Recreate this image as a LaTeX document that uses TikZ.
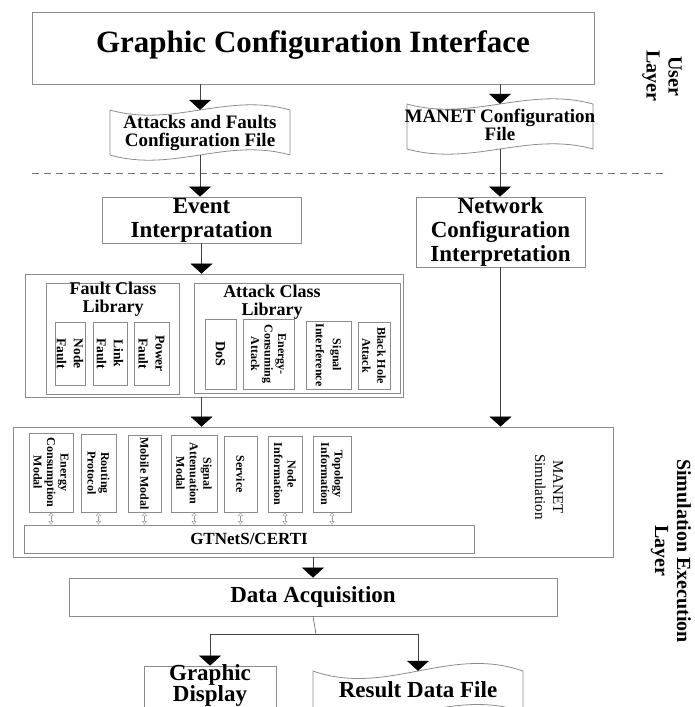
\documentclass[tikz,border=0pt]{standalone}
\usepackage{fontspec}
\setmainfont{Liberation Serif}
\usetikzlibrary{arrows.meta,fit}

% font size helper: size and leading in pt
\newcommand\sz[2]{\fontsize{#1pt}{#2pt}\selectfont}

\tikzset{
  frame/.style={draw=black!45, line width=0.8pt, inner sep=0pt},
  txt/.style={font=\bfseries, align=center, inner sep=0pt},
  vert/.style={txt, rotate=-90},
  flow/.style={draw=black!75, line width=0.5pt, -{Triangle[width=22pt,length=10pt,color=black]}},
  wire/.style={draw=black!75, line width=0.5pt},
  duplex/.style={draw=black!40, line width=0.4pt,
    {Triangle[open,width=5pt,length=3.5pt]}-{Triangle[open,width=5pt,length=3.5pt]}},
}

% rectangle node from its two corners: name, x1, y1, x2, y2
\newcommand\rbox[5]{\node[frame, fit={(#2,#3)(#4,#5)}] (#1) {};}
% punched-tape file shape: name, x1, x2, top y, bottom y, wave amplitude
\newcommand\tape[6]{%
  \node[inner sep=0pt, fit={(#2,#4)(#3,#5)}] (#1) {};
  \draw[frame] (#2,#4)
    .. controls ({#2+0.35*(#3-#2)},{#4+#6}) and ({#2+0.65*(#3-#2)},{#4-#6}) .. (#3,#4)
    -- (#3,#5)
    .. controls ({#2+0.65*(#3-#2)},{#5-#6}) and ({#2+0.35*(#3-#2)},{#5+#6}) .. (#2,#5)
    -- cycle;}

\begin{document}
\begin{tikzpicture}[x=1pt,y=-1pt]
\path[use as bounding box] (0,0) rectangle (694,707);
\clip (0,0) rectangle (694,707);

% ---------------- user layer ----------------
\rbox{gci}{32}{12}{594}{84}
\node[txt, font={\bfseries\sz{31}{36}}] at (313,45) {Graphic Configuration Interface};

\tape{afile}{110}{290}{110}{155}{18}
\node[txt, font={\bfseries\sz{19}{18}}] at (200,133) {Attacks and Faults\\Configuration File};

\tape{mfile}{407}{593}{104}{149}{18}
\node[txt, font={\bfseries\sz{19}{18}}] at (500,125) {MANET Configuration\\File};

\draw[flow] (gci.south -| afile.north) -- (afile.north);
\draw[flow] (gci.south -| mfile.north) -- (mfile.north);

\node[vert, font={\bfseries\sz{20}{22}}] (userlayer) at (662,76) {User\\Layer};

% layer separator
\draw[black!55, line width=0.8pt, dash pattern=on 7pt off 5pt] (32,173) -- (668,173);

% ---------------- interpretation ----------------
\rbox{event}{102}{197}{301}{243}
\node[txt, font={\bfseries\sz{23}{24}}] at (event.center) {Event\\Interpratation};

\rbox{netcfg}{416}{197}{585}{267}
\node[txt, font={\bfseries\sz{23}{24}}] at (netcfg.center) {Network\\Configuration\\Interpretation};

\draw[flow] (afile.south) -- (afile.south |- event.north);
\draw[flow] (mfile.south) -- (mfile.south |- netcfg.north);

% ---------------- class libraries ----------------
\rbox{lib}{25}{274}{403}{397}
\draw[flow] (event.south) -- (event.south |- lib.north);

\rbox{flib}{46}{283}{179}{394}
\node[txt, font={\bfseries\sz{18}{18}}] at (113,299) {Fault Class\\Library};
\rbox{nodef}{55}{322}{85}{385}
\rbox{linkf}{93}{322}{127}{385}
\rbox{powerf}{134}{322}{169}{385}
\node[vert, font={\bfseries\sz{13.5}{17}}] at (nodef.center) {Node\\Fault};
\node[vert, font={\bfseries\sz{13.5}{17}}] at (linkf.center) {Link\\Fault};
\node[vert, font={\bfseries\sz{13.5}{17}}] at (powerf.center) {Power\\Fault};

\rbox{alib}{194}{283}{400}{393}
\node[txt, font={\bfseries\sz{18}{18}}] at (272,302) {Attack Class\\Library};
\rbox{dos}{205}{319}{236}{389}
\rbox{energyatk}{243}{319}{294}{389}
\rbox{sigint}{306}{321}{351}{389}
\rbox{blackhole}{358}{322}{390}{389}
\node[vert, font={\bfseries\sz{14}{14}}] at (dos.center) {DoS};
\node[vert, font={\bfseries\sz{12}{13.5}}] at (energyatk.center) {Energy-\\Consuming\\Attack};
\node[vert, font={\bfseries\sz{12}{17}}] at (sigint.center) {Signal\\Interference};
\node[vert, font={\bfseries\sz{12}{15}}] at (blackhole.center) {Black Hole\\Attack};

% ---------------- MANET simulation ----------------
\rbox{sim}{13}{427}{613}{557}
\draw[flow] (event.south |- lib.south) -- (event.south |- sim.north);
\draw[flow] (netcfg.south) -- (netcfg.south |- sim.north);

\rbox{energy}{29}{433}{73}{512}
\rbox{routing}{81}{434}{116}{512}
\rbox{mobile}{128}{435}{161}{512}
\rbox{attenuation}{171}{435}{217}{512}
\rbox{service}{224}{436}{257}{512}
\rbox{nodeinfo}{268}{436}{302}{512}
\rbox{topology}{313}{436}{351}{512}
\foreach \m/\t in {energy/{Energy\\Consumption\\Modal},
                   routing/{Routing\\Protocol},
                   mobile/{Mobile Modal},
                   attenuation/{Signal\\Attenuation\\Modal},
                   service/{Service},
                   nodeinfo/{Node\\Information},
                   topology/{Topology\\Information}}
  \node[vert, font={\bfseries\sz{12}{13.5}}] at (\m.center) {\t};

\rbox{gtn}{24}{525}{474}{553}
\node[txt, font={\bfseries\sz{17}{20}}] at (gtn.center) {GTNetS/CERTI};
\foreach \m in {energy,routing,mobile,attenuation,service,nodeinfo,topology}
  \draw[duplex] (\m.south) -- (\m.south |- gtn.north);

\node[align=center, inner sep=0pt, rotate=-90, font=\sz{15}{18}] (simlabel) at (549,487) {MANET\\Simulation};

\node[vert, font={\bfseries\sz{20}{22}}] (execlayer) at (671,551) {Simulation Execution\\Layer};

% ---------------- data acquisition and outputs ----------------
\rbox{daq}{69}{578}{557}{616}
\node[txt, font={\bfseries\sz{23}{24}}] at (daq.center) {Data Acquisition};
\draw[flow] (sim.south -| daq.north) -- (daq.north);

\rbox{gdisp}{144}{666}{276}{714}
\node[txt, font={\bfseries\sz{23}{21}}] at (210,685) {Graphic\\Display};

\tape{rfile}{313}{523}{671}{712}{26}
\node[txt, font={\bfseries\sz{23}{24}}] at (418,690) {Result Data File};

\coordinate (split) at (316,634);
\draw[wire] (daq.south) -- (split);
\draw[flow] (split) -| (gdisp.north);
\draw[flow] (split) -| (rfile.north);
\end{tikzpicture}
\end{document}
